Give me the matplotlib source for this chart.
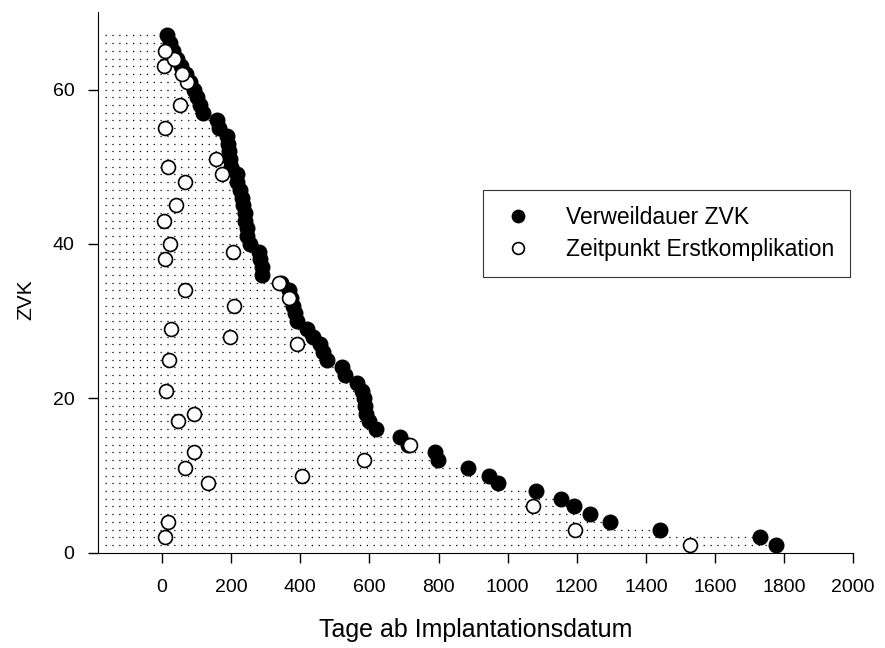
import matplotlib
matplotlib.use("Agg")
from matplotlib import pyplot as plt

plt.rcParams['font.family'] = ['Liberation Sans', 'DejaVu Sans']

# Verweildauer je ZVK (Tage), ZVK 1..67
zvk = list(range(1, 68))
verweildauer = [1777, 1729, 1441, 1297, 1239, 1192, 1155, 1082, 971, 946,
                884, 798, 790, 712, 689, 618, 600, 590, 586, 583,
                578, 563, 530, 520, 477, 467, 457, 438, 419, 390,
                385, 380, 372, 366, 345, 289, 288, 284, 279, 255,
                247, 245, 240, 240, 235, 230, 224, 218, 216, 200,
                197, 193, 191, 188, 165, 158, 119, 110, 100, 92,
                80, 70, 55, 42, 32, 23, 14]

# Zeitpunkt der Erstkomplikation (Tage)
kompl_zvk = [1, 2, 3, 4, 6, 9, 10, 11, 12, 13, 14, 17, 18, 21, 25, 27, 28,
             29, 32, 33, 34, 35, 38, 39, 40, 43, 45, 48, 49, 50, 51, 55, 58,
             61, 62, 63, 64, 65]
kompl_tage = [1528, 9, 1196, 16, 1073, 134, 404, 67, 585, 93, 716, 47, 93,
              11, 20, 390, 195, 25, 209, 368, 65, 339, 7, 204, 23, 4, 40, 67,
              173, 18, 156, 9, 52, 71, 57, 6, 33, 9]

x_start = -165

fig = plt.figure(figsize=(8.85, 6.48), dpi=100)
ax = fig.add_axes([0.111, 0.147, 0.853, 0.834])

ax.hlines(zvk, x_start, verweildauer, colors='black', linewidth=0.9,
          linestyles=(0, (1, 4.5)), zorder=1)
ax.plot(verweildauer, zvk, 'o', color='black', markersize=10.5,
        label='Verweildauer ZVK', zorder=2)
ax.plot(kompl_tage, kompl_zvk, 'o', markerfacecolor='white',
        markeredgecolor='black', markeredgewidth=1.2, markersize=10,
        label='Zeitpunkt Erstkomplikation', zorder=3)

ax.set_xlim(-185, 2000)
ax.set_ylim(0, 70)
ax.set_xticks(range(0, 2001, 200))
ax.set_yticks([0, 20, 40, 60])
ax.spines['top'].set_visible(False)
ax.spines['right'].set_visible(False)
ax.tick_params(direction='out', length=7, width=1, labelsize=14, pad=10)
ax.tick_params(axis='x', pad=12)

ax.set_xlabel('Tage ab Implantationsdatum', fontsize=18, labelpad=16)
ax.set_ylabel('ZVK', fontsize=15)
ax.yaxis.set_label_coords(-0.083, 0.468)

leg = ax.legend(loc='upper left', bbox_to_anchor=(0.546, 0.707),
                bbox_transform=fig.transFigure, fontsize=16.5,
                frameon=True, fancybox=False, edgecolor='black',
                markerscale=0.85, handletextpad=1.3, borderpad=0.7,
                labelspacing=0.4, handlelength=1.6, borderaxespad=0)
leg.get_frame().set_linewidth(0.8)

fig.savefig('out.png', dpi=100)
